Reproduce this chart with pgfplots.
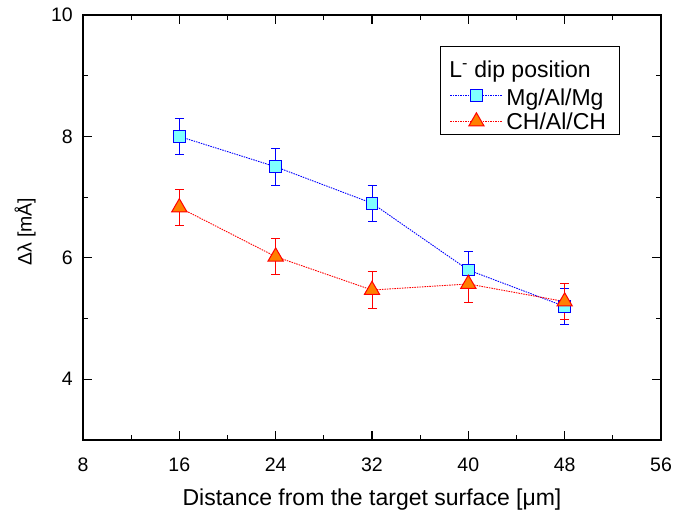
\documentclass[border=0pt]{standalone}
\usepackage{pgfplots}
\pgfplotsset{compat=1.18}
\usepackage{fontspec}
\setmainfont{Liberation Sans}
\definecolor{mgline}{RGB}{0,0,255}
\definecolor{mgfill}{RGB}{128,255,255}
\definecolor{chline}{RGB}{255,0,0}
\definecolor{chfill}{RGB}{255,128,0}
\begin{document}
\begin{tikzpicture}
\path[use as bounding box] (-83bp,-74bp) rectangle (590bp,440bp);
\begin{axis}[
  at={(0,0)}, anchor=south west,
  scale only axis, width=578bp, height=425bp,
  xmin=8, xmax=56, ymin=3, ymax=10,
  xtick={8,16,...,56}, minor xtick={12,20,...,52},
  ytick={4,6,8,10}, minor ytick={3,5,7,9},
  xtick pos=both, ytick pos=both,
  xticklabel pos=lower, yticklabel pos=left,
  tick align=inside, major tick length=9bp, minor tick length=5bp,
  axis line style={line width=1.2bp},
  every tick/.style={black, line width=1.2bp},
  /pgf/number format/assume math mode=true,
  tick label style={font=\fontsize{19.5bp}{23bp}\selectfont},
  xticklabel style={inner sep=0pt, yshift=-18bp},
  yticklabel style={inner sep=0pt, xshift=-10bp},
  xlabel={Distance from the target surface [μm]},
  ylabel={Δλ [mÅ]},
  xlabel style={font=\fontsize{23bp}{27bp}\selectfont, at={(axis description cs:0.5,-0.139)}, anchor=center},
  ylabel style={font=\fontsize{19.5bp}{23bp}\selectfont, at={(axis description cs:-0.1003,0.49)}, anchor=center},
  legend style={at={(axis description cs:0.6176,0.9278)}, anchor=north west,
    draw=black, line width=1bp, font=\fontsize{23bp}{27bp}\selectfont,
    inner xsep=9.5bp, inner ysep=1.5bp, row sep=0bp,
    nodes={inner xsep=3.5bp, inner ysep=2.5bp}},
  legend cell align=left,
  legend image code/.code={\draw[mark repeat=2,mark phase=2,#1] plot coordinates {(0bp,0bp) (26bp,0bp) (52bp,0bp)};},
]
\addlegendimage{empty legend}
\addlegendentry{\hspace*{-57bp}L\textsuperscript{-} dip position\rule[-11bp]{0pt}{38.3bp}}

\addplot[color=mgline, line width=0.9bp, dash pattern=on 1.5bp off 1bp,
  mark=square*, mark size=5.8bp,
  mark options={solid, draw=mgline, fill=mgfill, line width=1bp},
  error bars/.cd, y dir=both, y explicit,
  error bar style={solid, line width=0.9bp, color=mgline},
  error mark options={rotate=90, mark size=4.5bp, line width=0.9bp, color=mgline}]
coordinates {
(16,8.00) +- (0,0.30)
(24,7.50) +- (0,0.30)
(32,6.90) +- (0,0.30)
(40,5.80) +- (0,0.30)
(48,5.20) +- (0,0.30)
};
\addlegendentry{Mg/Al/Mg\rule[-5bp]{0pt}{27bp}}

\addplot[color=chline, line width=0.9bp, dash pattern=on 1.5bp off 1bp,
  mark=triangle*, mark size=8.8bp,
  mark options={solid, draw=chline, fill=chfill, line width=1bp},
  error bars/.cd, y dir=both, y explicit,
  error bar style={solid, line width=0.9bp, color=chline},
  error mark options={rotate=90, mark size=4.5bp, line width=0.9bp, color=chline}]
coordinates {
(16,6.83) +- (0,0.30)
(24,6.02) +- (0,0.30)
(32,5.47) +- (0,0.30)
(40,5.57) +- (0,0.30)
(48,5.28) +- (0,0.30)
};
\addlegendentry{CH/Al/CH\rule[-8bp]{0pt}{22bp}}
\end{axis}
\end{tikzpicture}
\end{document}
